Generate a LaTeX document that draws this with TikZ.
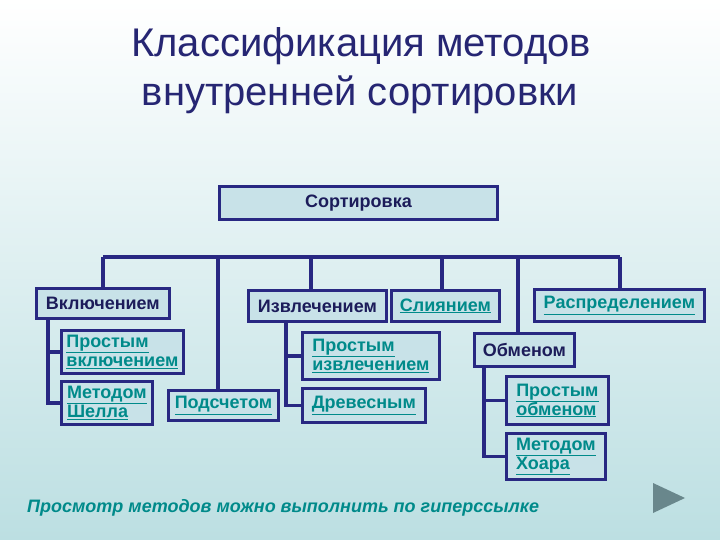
\documentclass[tikz,border=0pt]{standalone}
\usepackage{fontspec}
\setmainfont{Liberation Sans}
\definecolor{navy}{RGB}{40,40,130}
\definecolor{boxfill}{RGB}{200,226,232}
\definecolor{teal2}{RGB}{0,138,138}
\definecolor{darktext}{RGB}{28,28,90}
\definecolor{titlec}{RGB}{38,38,115}
\definecolor{bgbot}{RGB}{188,223,226}
\definecolor{bgmid}{RGB}{226,242,243}
\definecolor{tric}{RGB}{105,135,140}
\begin{document}
\begin{tikzpicture}[x=1pt,y=-1pt,
  box/.style={draw=navy, line width=2.8pt, fill=boxfill, anchor=north west,
    inner xsep=3pt, inner ysep=0pt, align=left,
    font=\bfseries\fontsize{18}{19}\selectfont},
  dk/.style={text=darktext},
  lnk/.style={text=teal2},
  conn/.style={draw=navy, line width=3.2pt}]
\useasboundingbox (0,0) rectangle (720,540);
\shade[top color=white, middle color=bgmid, bottom color=bgbot] (0,0) rectangle (720,540);

% title
\node[anchor=base, text=titlec, font=\fontsize{40}{48}\selectfont, inner sep=0] (t1) at (361,57) {Классификация методов};
\node[anchor=base, text=titlec, font=\fontsize{40}{48}\selectfont, inner sep=0] (t2) at (360,106) {внутренней сортировки};

% boxes
\node[box, dk, minimum width=278pt, minimum height=33pt, align=center] (root) at (218,185) {Сортировка};
\node[box, dk, minimum width=133pt, minimum height=30pt] (vkl) at (35,287) {Включением};
\node[box, dk, minimum width=138pt, minimum height=31pt] (izv) at (247,289) {Извлечением};
\node[box, lnk, minimum width=108pt, minimum height=31pt] (sli) at (390,289) {\underline{Слиянием}};
\node[box, lnk, minimum width=170pt, minimum height=32pt] (ras) at (533,288) {\underline{Распределением}};
\node[box, lnk, minimum width=122pt, minimum height=43pt] (pvkl) at (60,329) {\underline{Простым}\\\underline{включением}};
\node[box, lnk, minimum width=91pt, minimum height=43pt] (shell) at (60,380) {\underline{Методом}\\\underline{Шелла}};
\node[box, lnk, minimum width=110pt, minimum height=30pt] (podsch) at (167,389) {\underline{Подсчетом}};
\node[box, lnk, minimum width=137pt, minimum height=47pt] (pizv) at (301,331) {\underline{Простым}\\\underline{извлечением}};
\node[box, lnk, minimum width=123pt, minimum height=34pt] (drev) at (301,387) {\underline{Древесным}};
\node[box, dk, minimum width=100pt, minimum height=33pt] (obm) at (473,332) {Обменом};
\node[box, lnk, minimum width=102pt, minimum height=48pt] (pobm) at (505,375) {\underline{Простым}\\\underline{обменом}};
\node[box, lnk, minimum width=99pt, minimum height=46pt] (hoar) at (505,432) {\underline{Методом}\\\underline{Хоара}};

% bus
\coordinate (bL) at (103,257);
\coordinate (bR) at (620,257);
\coordinate (b2) at (218,257);
\coordinate (b3) at (311,257);
\coordinate (b4) at (442,257);
\coordinate (b5) at (518,257);
\draw[conn] (bL) -- (bR);
\draw[conn] (bL) -- (bL |- vkl.north);
\draw[conn] (b2) -- (b2 |- podsch.north);
\draw[conn] (b3) -- (b3 |- izv.north);
\draw[conn] (b4) -- (b4 |- sli.north);
\draw[conn] (b5) -- (b5 |- obm.north);
\draw[conn] (bR) -- (bR |- ras.north);

% group trunks
\coordinate (k1) at (48,0);
\coordinate (k2) at (286,0);
\coordinate (k3) at (484,0);
\draw[conn] (vkl.south -| k1) |- (pvkl.west);
\draw[conn] (vkl.south -| k1) |- (shell.west);
\draw[conn] (izv.south -| k2) |- (pizv.west);
\draw[conn] (izv.south -| k2) |- (drev.west);
\draw[conn] (obm.south -| k3) |- (pobm.west);
\draw[conn] (obm.south -| k3) |- (hoar.west);

% footer
\node[anchor=base west, text=teal2, font=\bfseries\itshape\fontsize{18}{20}\selectfont, inner sep=0] (foot) at (27,512) {Просмотр методов можно выполнить по гиперссылке};
\fill[tric] (653,483) -- (685,498) -- (653,513) -- cycle;
\end{tikzpicture}
\end{document}
